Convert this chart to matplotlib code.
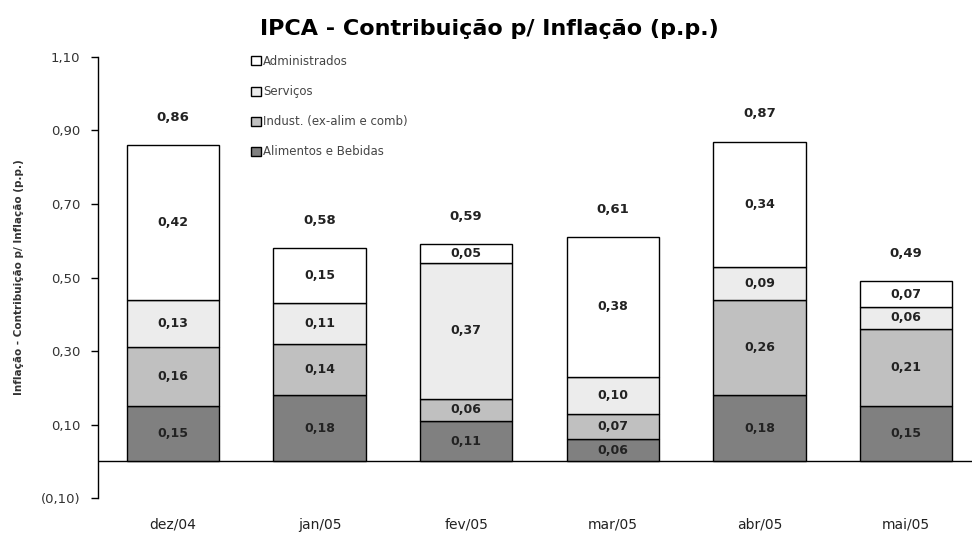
import numpy as np
import matplotlib.pyplot as plt

meses = ['dez/04', 'jan/05', 'fev/05', 'mar/05', 'abr/05', 'mai/05']
alimentos = [0.15, 0.18, 0.11, 0.06, 0.18, 0.15]
industriais = [0.16, 0.14, 0.06, 0.07, 0.26, 0.21]
servicos = [0.13, 0.11, 0.37, 0.10, 0.09, 0.06]
administrados = [0.42, 0.15, 0.05, 0.38, 0.34, 0.07]
totais = [0.86, 0.58, 0.59, 0.61, 0.87, 0.49]

series = [
    ('Alimentos e Bebidas', alimentos, '#808080'),
    ('Indust. (ex-alim e comb)', industriais, '#c0c0c0'),
    ('Serviços', servicos, '#ececec'),
    ('Administrados', administrados, '#ffffff'),
]


def fmt(v):
    s = f'{abs(v):.2f}'.replace('.', ',')
    return f'({s})' if v < 0 else s


fig = plt.figure(figsize=(9.72, 5.35), dpi=100)
ax = fig.add_axes([0.101, 0.069, 0.899, 0.8245])

x = np.arange(len(meses))
base = np.zeros(len(meses))
handles = []
for nome, vals, cor in series:
    vals = np.array(vals)
    b = ax.bar(x, vals, bottom=base, width=0.63, color=cor,
               edgecolor='black', linewidth=1, label=nome, zorder=2)
    handles.append(b)
    for xi, bi, vi in zip(x, base, vals):
        ax.text(xi, bi + vi / 2, fmt(vi), ha='center', va='center',
                fontsize=9, fontweight='bold', color='#222222', zorder=3)
    base = base + vals

for xi, t in zip(x, totais):
    ax.text(xi, t + 0.075, fmt(t), ha='center', va='center',
            fontsize=9.5, fontweight='bold', color='#222222')

ax.axhline(0, color='black', linewidth=1, zorder=1)
ax.set_xlim(-0.51, 5.45)
ax.set_ylim(-0.10, 1.10)
ticks = [-0.10, 0.10, 0.30, 0.50, 0.70, 0.90, 1.10]
ax.set_yticks(ticks)
ax.set_yticklabels([fmt(t) for t in ticks], fontsize=9.5, color='#333333')
ax.set_xticks(x)
ax.set_xticklabels(meses, fontsize=10, color='#222222')
ax.tick_params(axis='x', length=0, pad=14)
ax.tick_params(axis='y', length=5, width=1, direction='out', pad=8)
for s in ['top', 'right', 'bottom']:
    ax.spines[s].set_visible(False)
ax.spines['left'].set_linewidth(1)

ax.set_ylabel('Inflação - Contribuição p/ Inflação (p.p.)', fontsize=7.5,
              fontweight='bold', color='#333333', labelpad=12)
fig.suptitle('IPCA - Contribuição p/ Inflação (p.p.)', fontsize=16,
             fontweight='bold', y=0.965, x=0.503)

leg = ax.legend(handles[::-1], [s[0] for s in series][::-1],
                loc='upper left', bbox_to_anchor=(0.17, 1.015),
                frameon=False, fontsize=8.5, handlelength=0.8,
                handleheight=0.8, handletextpad=0.2, labelspacing=1.45,
                borderaxespad=0)
for t in leg.get_texts():
    t.set_color('#444444')

fig.savefig('out.png', dpi=100)
